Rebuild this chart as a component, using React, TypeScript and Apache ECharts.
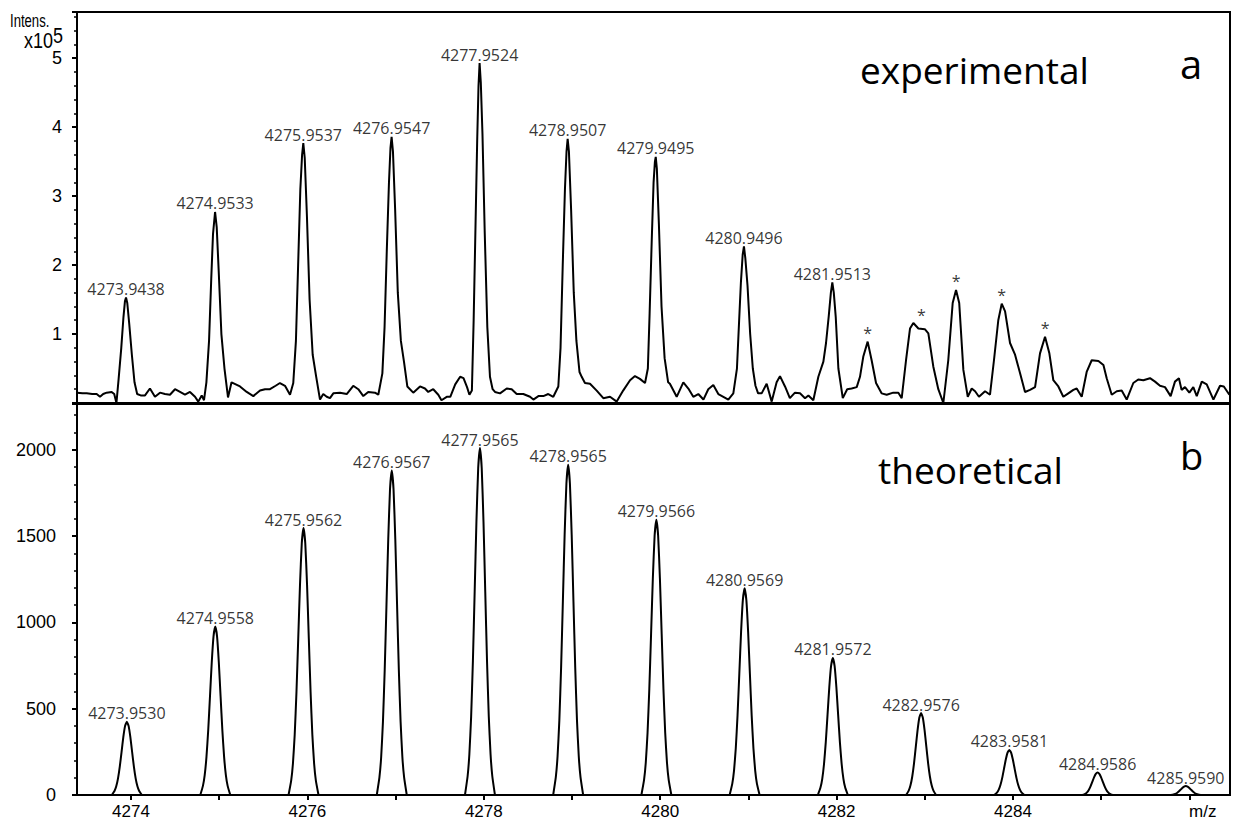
import React, { useEffect, useRef } from "react";
import * as echarts from "echarts";

// ---------- axis ranges / ticks ----------
const X_MIN = 4273.388;
const X_MAX = 4286.46;
const EXP_Y_MAX = 5.67;
const THEO_Y_MAX = 2265;
const xTickLabels = [4274, 4276, 4278, 4280, 4282, 4284];
const expYTicks = [1, 2, 3, 4, 5];
const theoYTicks = [0, 500, 1000, 1500, 2000];

// ---------- experimental profile (m/z, intensity x10^5) ----------
const expTrace: [number, number][] = [
  [4273.391, 0.15], [4273.45, 0.14], [4273.498, 0.14], [4273.56, 0.13], [4273.611, 0.13], [4273.649, 0.09],
  [4273.685, 0.13], [4273.724, 0.15], [4273.781, 0.16], [4273.81, 0.13], [4273.835, 0.0],
  [4273.86, 0.35], [4273.89, 0.8], [4273.915, 1.25], [4273.932, 1.48], [4273.9438, 1.53], [4273.958, 1.45],
  [4273.98, 1.15], [4274.01, 0.7], [4274.04, 0.3], [4274.07, 0.13],
  [4274.11, 0.11], [4274.159, 0.11], [4274.215, 0.21], [4274.272, 0.09], [4274.329, 0.15], [4274.385, 0.13],
  [4274.442, 0.12], [4274.499, 0.2], [4274.556, 0.16], [4274.612, 0.12], [4274.669, 0.16], [4274.726, 0.09],
  [4274.763, 0.02], [4274.802, 0.11], [4274.828, 0.04], [4274.855, 0.3],
  [4274.885, 0.9], [4274.91, 1.8], [4274.93, 2.45], [4274.9533, 2.77], [4274.972, 2.55], [4274.995, 1.9],
  [4275.025, 1.0], [4275.06, 0.5], [4275.1, 0.08],
  [4275.14, 0.3], [4275.236, 0.24], [4275.312, 0.16], [4275.387, 0.1], [4275.463, 0.18], [4275.52, 0.2],
  [4275.576, 0.2], [4275.64, 0.25], [4275.689, 0.29], [4275.746, 0.25], [4275.803, 0.12], [4275.84, 0.29],
  [4275.87, 0.9], [4275.895, 2.0], [4275.92, 3.1], [4275.94, 3.6], [4275.9537, 3.77], [4275.97, 3.55],
  [4275.995, 2.7], [4276.025, 1.5], [4276.06, 0.7], [4276.1, 0.38],
  [4276.143, 0.05], [4276.18, 0.13], [4276.219, 0.09], [4276.256, 0.07], [4276.294, 0.14], [4276.37, 0.15],
  [4276.446, 0.13], [4276.52, 0.25], [4276.577, 0.2], [4276.634, 0.1], [4276.69, 0.16], [4276.766, 0.15],
  [4276.804, 0.12], [4276.85, 0.43],
  [4276.875, 1.1], [4276.9, 2.2], [4276.925, 3.2], [4276.942, 3.7], [4276.9547, 3.86], [4276.97, 3.65],
  [4276.995, 2.8], [4277.025, 1.6], [4277.06, 0.9], [4277.095, 0.6], [4277.133, 0.24],
  [4277.2, 0.15], [4277.277, 0.24], [4277.333, 0.21], [4277.37, 0.16], [4277.427, 0.2], [4277.484, 0.12],
  [4277.52, 0.04], [4277.58, 0.09], [4277.62, 0.09], [4277.676, 0.27], [4277.732, 0.38], [4277.77, 0.36],
  [4277.81, 0.23], [4277.837, 0.12], [4277.865, 0.18],
  [4277.885, 1.2], [4277.905, 2.5], [4277.925, 3.8], [4277.94, 4.6], [4277.9524, 4.93], [4277.966, 4.65],
  [4277.985, 3.9], [4278.01, 2.5], [4278.04, 1.1], [4278.07, 0.38],
  [4278.1, 0.2], [4278.127, 0.16], [4278.184, 0.14], [4278.26, 0.21], [4278.316, 0.2], [4278.373, 0.13],
  [4278.448, 0.13], [4278.524, 0.09], [4278.562, 0.05], [4278.619, 0.1], [4278.675, 0.1], [4278.731, 0.13],
  [4278.788, 0.09], [4278.845, 0.24],
  [4278.87, 0.8], [4278.895, 2.0], [4278.92, 3.1], [4278.938, 3.65], [4278.9507, 3.83], [4278.965, 3.65],
  [4278.99, 2.8], [4279.02, 1.6], [4279.05, 0.9], [4279.085, 0.45],
  [4279.11, 0.38], [4279.147, 0.29], [4279.204, 0.28], [4279.28, 0.18], [4279.355, 0.07], [4279.431, 0.09],
  [4279.507, 0.02], [4279.58, 0.18], [4279.658, 0.33], [4279.714, 0.39], [4279.77, 0.35], [4279.828, 0.29],
  [4279.86, 0.5],
  [4279.88, 1.3], [4279.905, 2.4], [4279.925, 3.2], [4279.94, 3.5], [4279.9495, 3.57], [4279.962, 3.4],
  [4279.985, 2.6], [4280.015, 1.4], [4280.05, 0.65], [4280.09, 0.3],
  [4280.11, 0.28], [4280.187, 0.09], [4280.262, 0.3], [4280.319, 0.21], [4280.375, 0.09], [4280.432, 0.13],
  [4280.49, 0.05], [4280.545, 0.2], [4280.602, 0.26], [4280.659, 0.13], [4280.716, 0.09], [4280.772, 0.05],
  [4280.829, 0.14], [4280.87, 0.5],
  [4280.895, 1.2], [4280.915, 1.75], [4280.935, 2.15], [4280.9496, 2.27], [4280.965, 2.1], [4280.99, 1.7],
  [4281.02, 1.0], [4281.05, 0.5], [4281.08, 0.25], [4281.11, 0.14],
  [4281.15, 0.14], [4281.207, 0.28], [4281.264, 0.02], [4281.32, 0.3], [4281.358, 0.39], [4281.415, 0.24],
  [4281.47, 0.07], [4281.528, 0.15], [4281.585, 0.14], [4281.642, 0.07], [4281.68, 0.11], [4281.736, 0.04],
  [4281.793, 0.38], [4281.85, 0.6], [4281.88, 0.87],
  [4281.91, 1.25], [4281.935, 1.6], [4281.9513, 1.75], [4281.968, 1.6], [4281.99, 1.25], [4282.02, 0.5],
  [4282.07, 0.07], [4282.12, 0.2], [4282.17, 0.21], [4282.228, 0.23], [4282.265, 0.38], [4282.302, 0.67],
  [4282.352, 0.89], [4282.397, 0.62], [4282.447, 0.29], [4282.51, 0.14], [4282.568, 0.12], [4282.642, 0.15],
  [4282.7, 0.15], [4282.738, 0.07], [4282.787, 0.62], [4282.832, 1.08], [4282.87, 1.16], [4282.927, 1.08],
  [4283.0, 1.07], [4283.04, 1.01], [4283.096, 0.53], [4283.153, 0.2], [4283.21, 0.0], [4283.266, 0.62],
  [4283.316, 1.45], [4283.354, 1.64], [4283.39, 1.45], [4283.437, 0.48], [4283.487, 0.09], [4283.532, 0.21],
  [4283.57, 0.17], [4283.614, 0.09], [4283.683, 0.17], [4283.739, 0.12], [4283.784, 0.62], [4283.833, 1.2],
  [4283.872, 1.44], [4283.91, 1.33], [4283.966, 0.87], [4284.023, 0.7], [4284.08, 0.43], [4284.136, 0.16],
  [4284.193, 0.19], [4284.25, 0.23], [4284.306, 0.72], [4284.363, 0.96], [4284.412, 0.72], [4284.457, 0.33],
  [4284.514, 0.24], [4284.57, 0.09], [4284.627, 0.14], [4284.684, 0.19], [4284.722, 0.21], [4284.779, 0.09],
  [4284.835, 0.45], [4284.892, 0.62], [4284.968, 0.61], [4285.025, 0.55], [4285.062, 0.36], [4285.119, 0.12],
  [4285.176, 0.17], [4285.232, 0.18], [4285.289, 0.05], [4285.364, 0.29], [4285.42, 0.34], [4285.478, 0.33],
  [4285.553, 0.36], [4285.61, 0.31], [4285.666, 0.25], [4285.723, 0.23], [4285.787, 0.1], [4285.836, 0.31],
  [4285.881, 0.36], [4285.911, 0.19], [4285.95, 0.23], [4285.999, 0.15], [4286.044, 0.23], [4286.083, 0.1],
  [4286.14, 0.31], [4286.196, 0.27], [4286.272, 0.05], [4286.347, 0.25], [4286.39, 0.24], [4286.453, 0.12],
];

// labelled experimental peaks
const expPeakMz = [4273.9438, 4274.9533, 4275.9537, 4276.9547, 4277.9524, 4278.9507, 4279.9495, 4280.9496, 4281.9513];
const expPeakInt = [1.53, 2.77, 3.77, 3.86, 4.93, 3.83, 3.57, 2.27, 1.75];

// starred (unassigned) peaks
const starMz = [4282.352, 4282.96, 4283.354, 4283.872, 4284.363];
const starInt = [0.89, 1.16, 1.64, 1.44, 0.96];

// theoretical isotope pattern
const theoMz = [4273.953, 4274.9558, 4275.9562, 4276.9567, 4277.9565, 4278.9565, 4279.9566, 4280.9569, 4281.9572, 4282.9576, 4283.9581, 4284.9586, 4285.959];
const theoInt = [425, 976, 1546, 1880, 2010, 1913, 1594, 1198, 794, 475, 261, 130, 52];

// glyph used to draw each theoretical peak (offset in m/z, fraction of height)
const PEAK_GLYPH: [number, number][] = [
  [-0.17, 0], [-0.14, 0.054], [-0.12, 0.118], [-0.1, 0.226], [-0.08, 0.386], [-0.06, 0.586],
  [-0.04, 0.788], [-0.02, 0.942], [0, 1], [0.02, 0.942], [0.04, 0.788], [0.06, 0.586],
  [0.08, 0.386], [0.1, 0.226], [0.12, 0.118], [0.14, 0.054], [0.17, 0],
];

const AXIS_FONT = "Liberation Sans";
const LABEL_FONT = "Open Sans";

const near = (arr: number[], v: number) => arr.some((t) => Math.abs(t - v) < 1e-6);

export default function App() {
  const ref = useRef<HTMLDivElement>(null);

  useEffect(() => {
    if (!ref.current) return;
    const chart = echarts.init(ref.current, null, { renderer: "svg" });

    const gridCommon = {
      left: 77,
      width: 1153,
      height: 391,
      show: true,
      borderColor: "#000",
      borderWidth: 2,
      backgroundColor: "transparent",
      containLabel: false,
      outerBoundsMode: "none",
    };

    const yCommon = {
      type: "value",
      axisLine: { show: true, lineStyle: { color: "#000", width: 2 } },
      axisTick: { show: true, length: 5, lineStyle: { color: "#000", width: 2 } },
      minorTick: { show: true, splitNumber: 5, length: 3, lineStyle: { color: "#000", width: 1.5 } },
      splitLine: { show: false },
      minorSplitLine: { show: false },
    };

    const peakLabel = {
      show: true,
      position: "top",
      distance: 0,
      color: "#000",
      fontFamily: LABEL_FONT,
      fontSize: 16,
    };

    const option: any = {
      animation: false,
      backgroundColor: "#ffffff",
      textStyle: { fontFamily: AXIS_FONT },
      grid: [
        { ...gridCommon, top: 12 },
        { ...gridCommon, top: 404 },
      ],
      xAxis: [
        {
          gridIndex: 0,
          type: "value",
          min: X_MIN,
          max: X_MAX,
          show: false,
          splitLine: { show: false },
        },
        {
          gridIndex: 1,
          type: "value",
          min: X_MIN,
          max: X_MAX,
          splitNumber: 13,
          minInterval: 1,
          maxInterval: 1,
          axisLine: { show: true, lineStyle: { color: "#000", width: 2 } },
          axisTick: { show: true, length: 5, lineStyle: { color: "#000", width: 2 } },
          splitLine: { show: false },
          axisLabel: {
            show: true,
            margin: 8,
            color: "#000",
            fontSize: 17,
            lineHeight: 16,
            fontFamily: AXIS_FONT,
            showMinLabel: false,
            showMaxLabel: false,
            formatter: (v: number) => (near(xTickLabels, v) ? String(Math.round(v)) : ""),
          },
        },
      ],
      yAxis: [
        {
          ...yCommon,
          gridIndex: 0,
          min: 0,
          max: EXP_Y_MAX,
          splitNumber: 6,
          minInterval: 1,
          maxInterval: 1,
          axisLabel: {
            show: true,
            margin: 15,
            color: "#000",
            fontSize: 18,
            fontFamily: AXIS_FONT,
            showMaxLabel: false,
            formatter: (v: number) => (near(expYTicks, v) ? String(Math.round(v)) : ""),
          },
        },
        {
          ...yCommon,
          gridIndex: 1,
          min: 0,
          max: THEO_Y_MAX,
          splitNumber: 5,
          minInterval: 500,
          maxInterval: 500,
          axisLabel: {
            show: true,
            margin: 21,
            color: "#000",
            fontSize: 18,
            fontFamily: AXIS_FONT,
            showMaxLabel: false,
            formatter: (v: number) => (near(theoYTicks, v) ? String(Math.round(v)) : ""),
          },
        },
      ],
      series: [
        {
          name: "experimental",
          type: "line",
          xAxisIndex: 0,
          yAxisIndex: 0,
          data: expTrace,
          symbol: "none",
          showSymbol: false,
          lineStyle: { color: "#000", width: 2 },
          silent: true,
          z: 3,
        },
        {
          name: "experimental labels",
          type: "scatter",
          xAxisIndex: 0,
          yAxisIndex: 0,
          data: expPeakMz.map((m, i) => [m, expPeakInt[i]]),
          symbolSize: 1,
          itemStyle: { color: "rgba(0,0,0,0)" },
          label: { ...peakLabel, formatter: (p: any) => p.value[0].toFixed(4) },
          silent: true,
          z: 4,
        },
        {
          name: "stars",
          type: "scatter",
          xAxisIndex: 0,
          yAxisIndex: 0,
          data: starMz.map((m, i) => [m, starInt[i]]),
          symbolSize: 1,
          itemStyle: { color: "rgba(0,0,0,0)" },
          label: { ...peakLabel, formatter: () => "*" },
          silent: true,
          z: 4,
        },
        {
          name: "theoretical",
          type: "custom",
          xAxisIndex: 1,
          yAxisIndex: 1,
          data: theoMz.map((m, i) => [m, theoInt[i]]),
          encode: { x: 0, y: 1 },
          silent: true,
          renderItem: (params: any, api: any) => {
            const c = api.value(0);
            const h = api.value(1);
            const pts = PEAK_GLYPH.map(([dx, r]) => api.coord([c + dx, h * r]));
            return {
              type: "polyline",
              shape: { points: pts, smooth: 0.15 },
              style: { stroke: "#000", lineWidth: 2, fill: null },
            };
          },
          z: 3,
        },
        {
          name: "theoretical labels",
          type: "scatter",
          xAxisIndex: 1,
          yAxisIndex: 1,
          data: theoMz.map((m, i) => [m, theoInt[i]]),
          symbolSize: 1,
          itemStyle: { color: "rgba(0,0,0,0)" },
          label: { ...peakLabel, formatter: (p: any) => p.value[0].toFixed(4) },
          silent: true,
          z: 4,
        },
      ],
      graphic: [
        {
          type: "text",
          x: 10,
          y: 21,
          scaleX: 0.82,
          scaleY: 1.1,
          style: { text: "Intens.", fontSize: 16, fontFamily: AXIS_FONT, fill: "#000", textAlign: "left", align: "left", textVerticalAlign: "middle", verticalAlign: "middle" },
        },
        {
          type: "text",
          x: 24,
          y: 40,
          scaleY: 1.2,
          style: { text: "x10", fontSize: 18, fontFamily: AXIS_FONT, fill: "#000", textAlign: "left", align: "left", textVerticalAlign: "middle", verticalAlign: "middle" },
        },
        {
          type: "text",
          x: 53,
          y: 35,
          scaleY: 1.2,
          style: { text: "5", fontSize: 18, fontFamily: AXIS_FONT, fill: "#000", textAlign: "left", align: "left", textVerticalAlign: "middle", verticalAlign: "middle" },
        },
        {
          type: "text",
          x: 1189,
          y: 811,
          style: { text: "m/z", fontSize: 17, fontFamily: AXIS_FONT, fill: "#000", textAlign: "left", align: "left", textVerticalAlign: "middle", verticalAlign: "middle" },
        },
        {
          type: "text",
          x: 860,
          y: 69,
          style: { text: "experimental", fontSize: 37, fontFamily: LABEL_FONT, fill: "#000", textAlign: "left", align: "left", textVerticalAlign: "middle", verticalAlign: "middle" },
        },
        {
          type: "text",
          x: 1180,
          y: 63,
          style: { text: "a", fontSize: 40, fontFamily: LABEL_FONT, fill: "#000", textAlign: "left", align: "left", textVerticalAlign: "middle", verticalAlign: "middle" },
        },
        {
          type: "text",
          x: 878,
          y: 469,
          style: { text: "theoretical", fontSize: 37, fontFamily: LABEL_FONT, fill: "#000", textAlign: "left", align: "left", textVerticalAlign: "middle", verticalAlign: "middle" },
        },
        {
          type: "text",
          x: 1180,
          y: 455,
          style: { text: "b", fontSize: 38, fontFamily: LABEL_FONT, fill: "#000", textAlign: "left", align: "left", textVerticalAlign: "middle", verticalAlign: "middle" },
        },
      ],
    };

    chart.setOption(option);
    return () => {
      chart.dispose();
    };
  }, []);

  return (
    <div
      ref={ref}
      style={{ position: "absolute", left: 0, top: 0, width: 1233, height: 821, background: "#fff" }}
    />
  );
}
